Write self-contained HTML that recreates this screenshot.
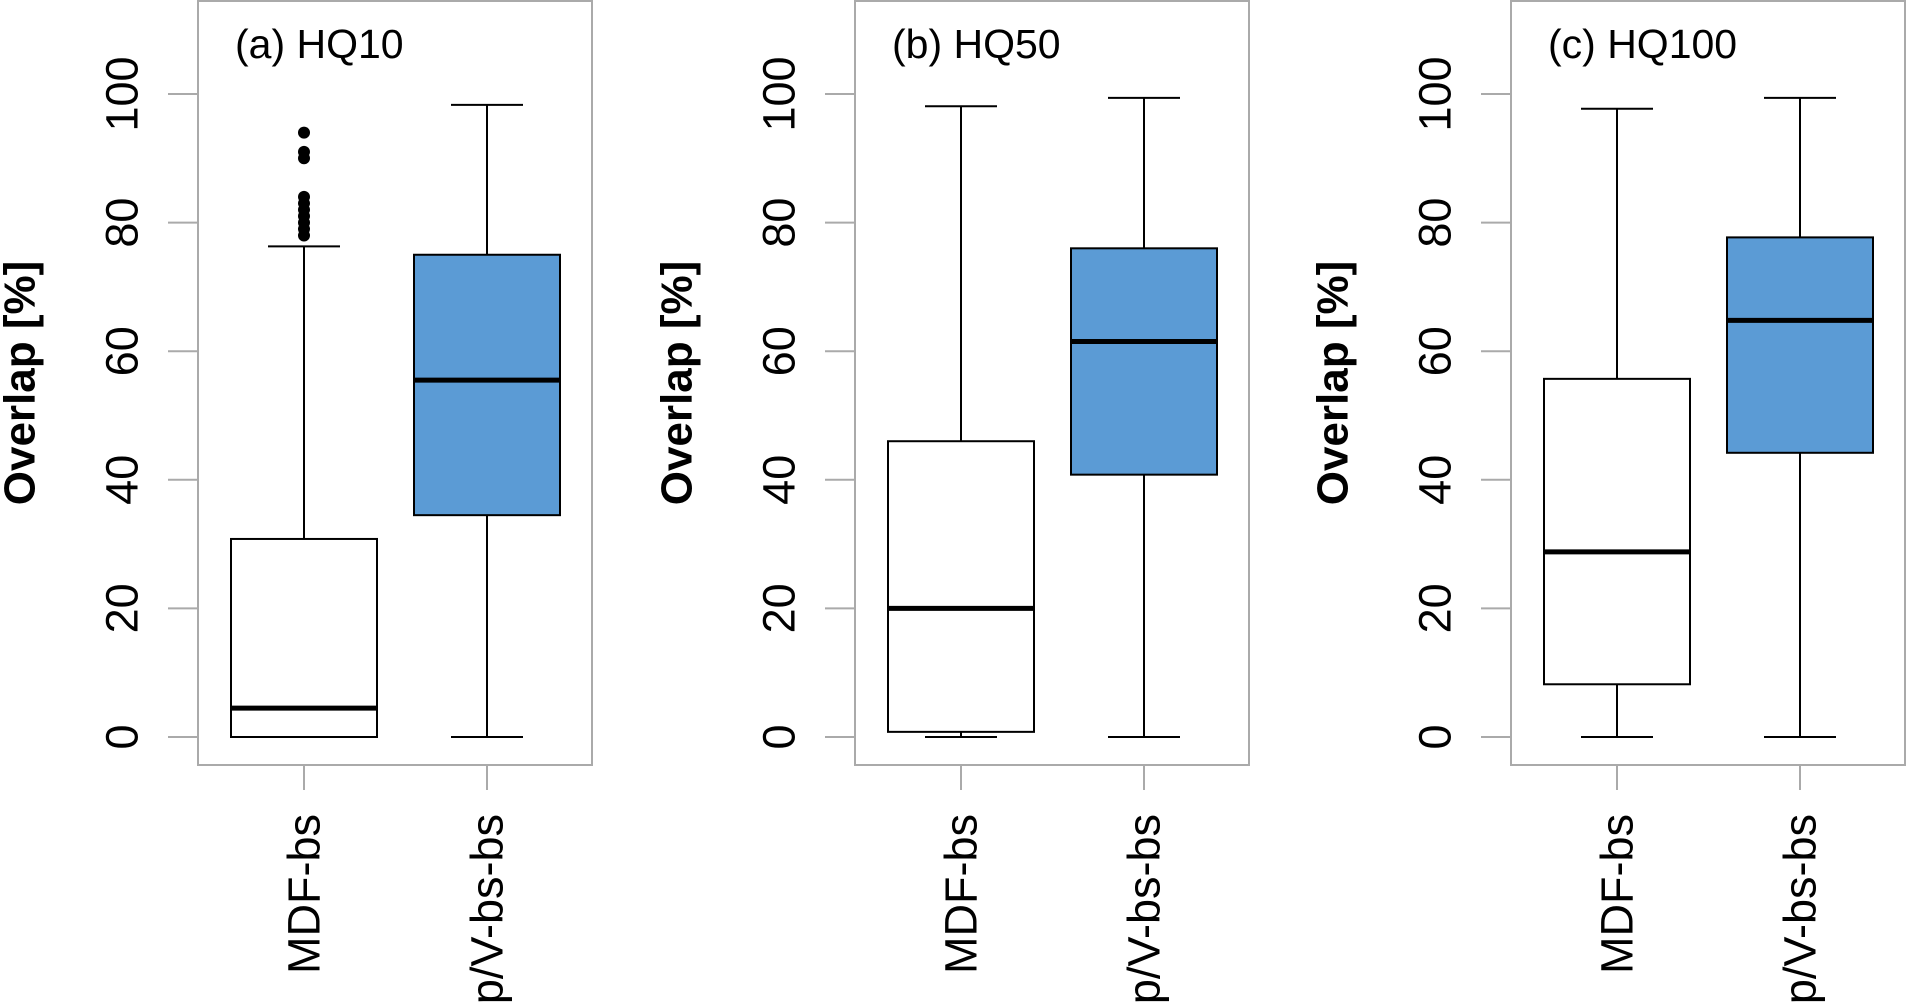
<!DOCTYPE html>
<html><head><meta charset="utf-8"><style>html,body{margin:0;padding:0;background:#fff}svg{display:block}</style></head>
<body>
<svg id="chart" width="1906" height="1004" xmlns="http://www.w3.org/2000/svg" font-family="Liberation Sans, Arial, sans-serif"></svg>
<script>
const panelTitles = ["(a) HQ10", "(b) HQ50", "(c) HQ100"];
const categories = ["MDF-bs", "p/V-bs-bs"];
const yTicks = [0, 20, 40, 60, 80, 100];
// [min, q1, median, q3, max] per panel per category
const statsMDF = [[0, 0, 4.5, 30.8, 76.3], [0, 0.8, 20, 46, 98.1], [0, 8.2, 28.8, 55.7, 97.7]];
const statsPV = [[0, 34.5, 55.5, 75, 98.3], [0, 40.8, 61.5, 76, 99.4], [0, 44.2, 64.8, 77.7, 99.4]];
const outliersMDF = [[78, 79, 80, 81, 82, 83, 84, 90, 91, 94], [], []];

const svgEl = document.getElementById('chart');
const NS = 'http://www.w3.org/2000/svg';
function mk(tag, attrs, parent) {
  const e = document.createElementNS(NS, tag);
  for (const k in attrs) e.setAttribute(k, attrs[k]);
  (parent || svgEl).appendChild(e);
  return e;
}
const panelLeft = [198, 855, 1511];
const boxW = 394, frameTop = 1, frameBottom = 765;
const yScale = v => 737 - (v / 100) * (737 - 94);
const fills = ['#ffffff', '#5b9bd5'];

panelLeft.forEach((L, p) => {
  const g = mk('g', {});
  
  
  const frame = mk('rect', {x: L, y: frameTop, width: boxW, height: frameBottom - frameTop, fill: 'none', stroke: '#aaaaaa', 'stroke-width': 2}, g);
  
  
  const t = mk('text', {x: L + 37, y: 58, 'font-size': 41, fill: '#000'}, g);
  t.textContent = panelTitles[p];
  
  
  yTicks.forEach(v => {
    const tk = mk('line', {x1: L - 30, x2: L, y1: yScale(v), y2: yScale(v), stroke: '#aaaaaa', 'stroke-width': 2}, g);
    
    
    const lx = L - 76;
    const lb = mk('text', {x: lx, y: yScale(v), 'font-size': 45, 'text-anchor': 'middle', 'dominant-baseline': 'central', transform: `rotate(-90 ${lx} ${yScale(v)})`}, g);
    lb.textContent = v;
    
    
  });
  const tx = L - 178, ty = 383;
  const yt = mk('text', {x: tx, y: ty, 'font-size': 44, 'font-weight': 'bold', 'text-anchor': 'middle', 'dominant-baseline': 'central', transform: `rotate(-90 ${tx} ${ty})`}, g);
  yt.textContent = 'Overlap [%]';
  
  
  const centers = [L + 106, L + 289];
  const all = [statsMDF[p], statsPV[p]];
  centers.forEach((cx, i) => {
    const s = all[i];
    const hw = 73, cw = 36;
    const bg = mk('g', {}, g);
    
    
    mk('line', {x1: cx, x2: cx, y1: yScale(s[0]), y2: yScale(s[1]), stroke: '#000', 'stroke-width': 2}, bg);
    mk('line', {x1: cx, x2: cx, y1: yScale(s[3]), y2: yScale(s[4]), stroke: '#000', 'stroke-width': 2}, bg);
    mk('line', {x1: cx - cw, x2: cx + cw, y1: yScale(s[0]), y2: yScale(s[0]), stroke: '#000', 'stroke-width': 2}, bg);
    mk('line', {x1: cx - cw, x2: cx + cw, y1: yScale(s[4]), y2: yScale(s[4]), stroke: '#000', 'stroke-width': 2}, bg);
    mk('rect', {x: cx - hw, y: yScale(s[3]), width: 2 * hw, height: yScale(s[1]) - yScale(s[3]), fill: fills[i], stroke: '#000', 'stroke-width': 2}, bg);
    mk('line', {x1: cx - hw, x2: cx + hw, y1: yScale(s[2]), y2: yScale(s[2]), stroke: '#000', 'stroke-width': 5}, bg);
    if (i === 0) outliersMDF[p].forEach(o => {
      const c = mk('circle', {cx: cx, cy: yScale(o), r: 6, fill: '#000'}, bg);
      
      
    });
    const xt = mk('line', {x1: cx, x2: cx, y1: frameBottom, y2: frameBottom + 25, stroke: '#aaaaaa', 'stroke-width': 2}, g);
    
    
    const ly = 814;
    const xl = mk('text', {x: cx, y: ly, 'font-size': 45, 'text-anchor': 'end', 'dominant-baseline': 'central', transform: `rotate(-90 ${cx} ${ly})`}, g);
    xl.textContent = categories[i];
    
    
  });
});
</script>
</body></html>
